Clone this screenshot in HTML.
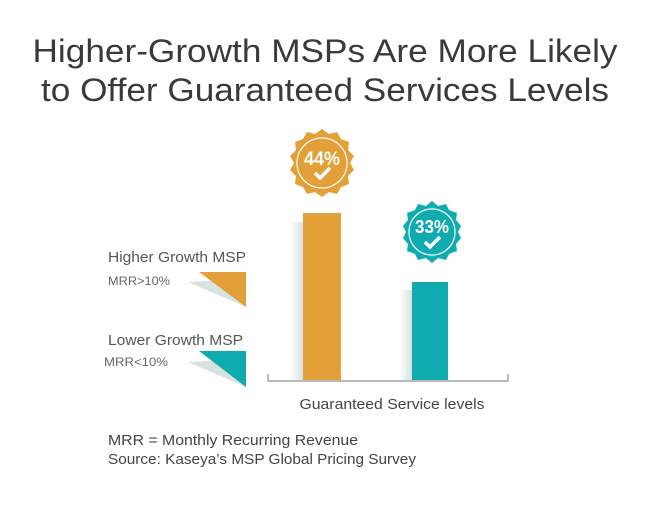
<!DOCTYPE html>
<html><head><style>
body{margin:0;width:650px;height:500px;background:#fff;overflow:hidden;font-family:"Liberation Sans",sans-serif;}
</style></head><body>
<svg width="650" height="500" xmlns="http://www.w3.org/2000/svg">
<defs>
<linearGradient id="sh" x1="0" x2="1"><stop offset="0" stop-color="#fff"/><stop offset="1" stop-color="#b8c8c8"/></linearGradient>
</defs>
<text x="325" y="62" text-anchor="middle" font-size="32" fill="#3a3a3a" font-family="Liberation Sans, sans-serif" textLength="585" lengthAdjust="spacingAndGlyphs">Higher-Growth MSPs Are More Likely</text>
<text x="325" y="101" text-anchor="middle" font-size="32" fill="#3a3a3a" font-family="Liberation Sans, sans-serif" textLength="568" lengthAdjust="spacingAndGlyphs">to Offer Guaranteed Services Levels</text>

<text x="108" y="262" font-size="15" fill="#555" textLength="138" lengthAdjust="spacingAndGlyphs">Higher Growth MSP</text>
<text x="108" y="285" font-size="12" fill="#666" textLength="62" lengthAdjust="spacingAndGlyphs">MRR&gt;10%</text>
<polygon points="188,282 230,280 246,307" fill="#c9d6d6" opacity="0.7"/>
<polygon points="199,272 246,272 246,307" fill="#e3a038"/>
<text x="108" y="345" font-size="15" fill="#555" textLength="135" lengthAdjust="spacingAndGlyphs">Lower Growth MSP</text>
<text x="104" y="366" font-size="12" fill="#666" textLength="64" lengthAdjust="spacingAndGlyphs">MRR&lt;10%</text>
<polygon points="188,362 230,360 246,387" fill="#c9d6d6" opacity="0.7"/>
<polygon points="199,351 246,351 246,387" fill="#0fabae"/>

<rect x="290" y="222" width="14" height="158" fill="url(#sh)" opacity="0.6"/>
<rect x="303" y="213" width="38" height="167" fill="#e3a038"/>
<rect x="399" y="290" width="14" height="90" fill="url(#sh)" opacity="0.6"/>
<rect x="412" y="282" width="36" height="98" fill="#0fabae"/>
<path d="M268,374 V381 H508 V374" fill="none" stroke="#777" stroke-width="1"/>
<text x="392" y="409" text-anchor="middle" font-size="15" fill="#444" textLength="185" lengthAdjust="spacingAndGlyphs">Guaranteed Service levels</text>

<g transform="translate(322,163)">
<polygon fill="#e3a038" points="0,-34 7,-29 15,-31 19,-24 27,-21 26,-13 32,-7 28,0 32,7 26,13 27,21 19,24 15,31 7,29 0,34 -7,29 -15,31 -19,24 -27,21 -26,13 -32,7 -28,0 -32,-7 -26,-13 -27,-21 -19,-24 -15,-31 -7,-29"/>
<circle r="25" fill="none" stroke="#fff" stroke-width="1.2"/>
<text y="2" text-anchor="middle" font-size="19" font-weight="bold" fill="#fff" textLength="36" lengthAdjust="spacingAndGlyphs">44%</text>
<path d="M-7,10 L-2,15 L8,5" fill="none" stroke="#fff" stroke-width="3.5"/>
</g>
<g transform="translate(432,232)">
<polygon fill="#0fabae" points="0,-31 6,-26 14,-28 17,-22 25,-19 24,-12 29,-6 26,0 29,6 24,12 25,19 17,22 14,28 6,26 0,31 -6,26 -14,28 -17,22 -25,19 -24,12 -29,6 -26,0 -29,-6 -24,-12 -25,-19 -17,-22 -14,-28 -6,-26"/>
<circle r="23" fill="none" stroke="#fff" stroke-width="1.2"/>
<text y="1" text-anchor="middle" font-size="18" font-weight="bold" fill="#fff" textLength="34" lengthAdjust="spacingAndGlyphs">33%</text>
<path d="M-7,10 L-2,15 L8,5" fill="none" stroke="#fff" stroke-width="3.5"/>
</g>

<text x="108" y="445" font-size="15" fill="#444" textLength="250" lengthAdjust="spacingAndGlyphs">MRR = Monthly Recurring Revenue</text>
<text x="108" y="464" font-size="15" fill="#444" textLength="308" lengthAdjust="spacingAndGlyphs">Source: Kaseya’s MSP Global Pricing Survey</text>
</svg>
</body></html>
